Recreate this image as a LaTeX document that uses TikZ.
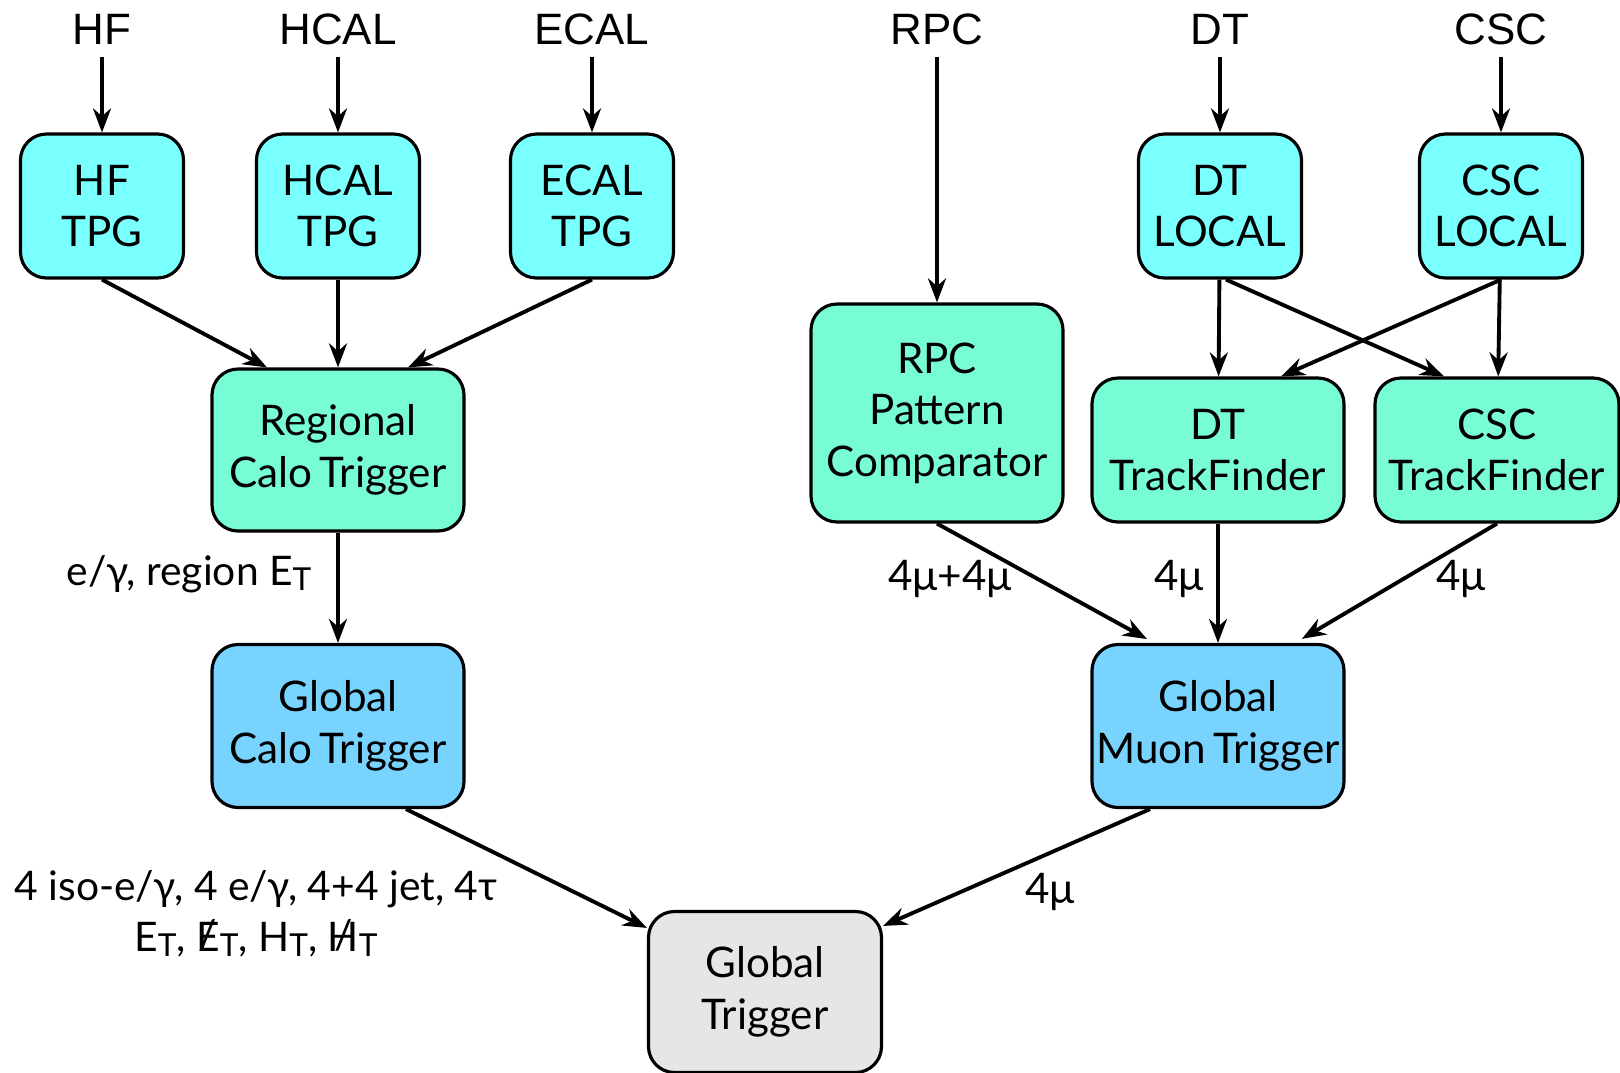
\documentclass[tikz,border=0pt]{standalone}
\usepackage{fontspec}
\setmainfont{Lato}
\newfontfamily\helv{Liberation Sans}
\usetikzlibrary{arrows.meta, positioning}
\usepackage{xcolor}

\definecolor{tpgcyan}{HTML}{7AFFFF}
\definecolor{tfgreen}{HTML}{78FCD6}
\definecolor{glblue}{HTML}{78D4FF}
\definecolor{gtgrey}{HTML}{E6E6E6}

\newcommand{\boxfont}{\fontsize{12}{14.7}\selectfont}
\newcommand{\tsub}{\raisebox{-0.25ex}{\small T}}
\newcommand{\slashed}[1]{\ooalign{#1\cr\hidewidth\raisebox{0.1ex}{/}\hidewidth}}

\begin{document}
\begin{tikzpicture}[x=0.1mm, y=-0.1mm, >={Stealth[length=2.4mm, width=1.8mm]},
  box/.style={draw=black, line width=0.9pt, rounded corners=2.6mm, align=center, font=\boxfont, inner sep=0pt},
  tpg/.style={box, fill=tpgcyan, minimum width=16.3mm, minimum height=14.4mm},
  trig/.style={box, fill=tfgreen, minimum width=25.2mm, minimum height=14.4mm},
  glob/.style={box, fill=glblue, minimum width=25.2mm, minimum height=16.3mm},
  source/.style={font=\helv\fontsize{12.5}{15}\selectfont},
  calolabel/.style={font=\fontsize{11.6}{14.5}\selectfont, align=center},
  muonlabel/.style={font=\fontsize{12}{14}\selectfont},
  flow/.style={->, line width=1.1pt}]
  \useasboundingbox (0,0) rectangle (1620,1072);
  % detector inputs
  \node[source] (inHF) at (102,29) {HF};
  \node[source] (inHCAL) at (338,29) {HCAL};
  \node[source] (inECAL) at (592,29) {ECAL};
  \node[source] (inRPC) at (937,29) {RPC};
  \node[source] (inDT) at (1220,29) {DT};
  \node[source] (inCSC) at (1501,29) {CSC};
  % trigger primitives
  \node[tpg] (hf) at (102,206) {HF\\TPG};
  \node[tpg] (hcal) at (338,206) {HCAL\\TPG};
  \node[tpg] (ecal) at (592,206) {ECAL\\TPG};
  \node[tpg] (dtl) at (1220,206) {DT\\LOCAL};
  \node[tpg] (cscl) at (1501,206) {CSC\\LOCAL};
  % regional layer
  \node[trig, minimum height=16.2mm] (rct) at (338,450) {Regional\\Calo\,Trigger};
  \node[trig, minimum height=21.8mm] (rpc) at (937,413) {RPC\\Pattern\\Comparator};
  \node[trig] (dttf) at (1218,450) {DT\\TrackFinder};
  \node[trig, minimum width=24.4mm] (csctf) at (1497,450) {CSC\\TrackFinder};
  % global layer
  \node[glob] (gct) at (338,726) {Global\\Calo\,Trigger};
  \node[glob] (gmt) at (1218,726) {Global\\Muon\,Trigger};
  \node[box, fill=gtgrey, minimum width=23.3mm, minimum height=16.1mm] (gt) at (765,992) {Global\\Trigger};

  \draw[flow] (inHF) -- (hf);
  \draw[flow] (inHCAL) -- (hcal);
  \draw[flow] (inECAL) -- (ecal);
  \draw[flow] (inRPC) -- (rpc);
  \draw[flow] (inDT) -- (dtl);
  \draw[flow] (inCSC) -- (cscl);

  \draw[flow] (hf.south) -- ([xshift=-7.1mm]rct.north);
  \draw[flow] (hcal) -- (rct);
  \draw[flow] (ecal.south) -- ([xshift=7mm]rct.north);
  \draw[flow] (rct) -- (gct);
  \draw[flow] ([xshift=6.8mm]gct.south) -- ([yshift=-1.8mm]gt.north west);

  \draw[flow] (dtl) -- (dttf);
  \draw[flow] ([xshift=0.6mm]dtl.south) -- ([xshift=-5.3mm]csctf.north);
  \draw[flow] (cscl.south) -- ([xshift=6.3mm]dttf.north);
  \draw[flow] (cscl) -- (csctf);
  \draw[flow, shorten >=0.8mm] (rpc.south) -- ([xshift=-6.4mm]gmt.north);
  \draw[flow] (dttf) -- (gmt);
  \draw[flow, shorten >=0.8mm] (csctf.south) -- ([xshift=7.7mm]gmt.north);
  \draw[flow] ([xshift=-6.8mm]gmt.south) -- ([yshift=-1.6mm]gt.north east);

  % link contents
  \node[calolabel] (lrct) at (189,574) {e/γ, region E\tsub};
  \node[muonlabel] (lrpc) at (950,579) {4μ+4μ};
  \node[muonlabel] (ldt) at (1179,579) {4μ};
  \node[muonlabel] (lcsc) at (1461,579) {4μ};
  \node[muonlabel] (lgmt) at (1050,892) {4μ};
  \node[calolabel] (lgct) at (256,914) {4 iso-e/γ, 4 e/γ, 4+4 jet, 4τ\\E\tsub, \slashed{E}\tsub, H\tsub, \slashed{H}\tsub};
\end{tikzpicture}
\end{document}
